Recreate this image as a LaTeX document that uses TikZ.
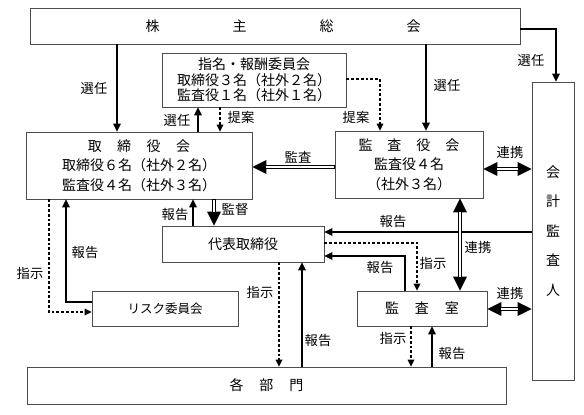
\documentclass[tikz,border=0pt]{standalone}
\usepackage{fontspec}
\newfontfamily\jp{Noto Sans CJK JP}
\usetikzlibrary{arrows.meta}
\begin{document}
\begin{tikzpicture}[x=1pt,y=-1pt,
 box/.style={draw=black!70, line width=0.9pt, fill=white, inner sep=0pt, align=center, font=\jp\fontsize{14}{19.5}\selectfont},
 ttl/.style={inner sep=0pt, font=\jp\fontsize{14}{17}\selectfont},
 lbl/.style={inner sep=0pt, font=\jp\fontsize{13.3}{14}\selectfont},
 sarr/.style={line width=2pt, -{Triangle[length=8pt,width=8pt,line width=0pt]}},
 darr/.style={line width=2.8pt, dash pattern=on 2.8pt off 2pt, -{Triangle[length=7pt,width=7pt,line width=0pt]}},
 dblone/.style={line width=4.8pt, -{Triangle[length=14pt,width=14pt,line width=0pt]}},
 dblboth/.style={line width=4.8pt, {Triangle[length=14pt,width=14pt,line width=0pt]}-{Triangle[length=14pt,width=14pt,line width=0pt]}},
 dblin/.style={white, line width=2.2pt},
]
\useasboundingbox (0,0) rectangle (584,415);

% boxes
\node[box, minimum width=490pt, minimum height=36pt] (soukai) at (275,26) {};
\node[ttl] (soukaiT) at (283,26) {株\hspace{73pt}主\hspace{73pt}総\hspace{73pt}会};
\node[box, minimum width=184pt, minimum height=54pt, font=\jp\fontsize{14}{15.5}\selectfont] (nomi) at (254,80) {指名・報酬委員会\\取締役３名（社外２名）\\監査役１名（社外１名）};
\node[box, minimum width=226pt, minimum height=67pt] (tori) at (139,165.5) {取\hspace{15.5pt}締\hspace{15.5pt}役\hspace{15.5pt}会\\取締役６名（社外２名）\\監査役４名（社外３名）};
\node[box, minimum width=148pt, minimum height=67pt] (kansa) at (409,164.5) {監\hspace{15pt}査\hspace{15pt}役\hspace{15pt}会\\監査役４名\\（社外３名）};
\node[box, minimum width=42pt, minimum height=298pt, font=\jp\fontsize{14}{29.5}\selectfont] (kaikei) at (553,231) {会\\計\\監\\査\\人};
\node[box, minimum width=162pt, minimum height=36pt] (daihyo) at (243,244) {代表取締役};
\node[box, minimum width=146pt, minimum height=35pt, font=\jp\fontsize{12.5}{15}\selectfont] (risk) at (165,308.5) {リスク委員会};
\node[box, minimum width=130pt, minimum height=35pt] (shitsu) at (422,308.5) {監\hspace{16pt}査\hspace{16pt}室};
\node[box, minimum width=479pt, minimum height=37pt] (bumon) at (266.5,385.5) {各\hspace{16pt}部\hspace{16pt}門};

% solid arrows
\draw[sarr] (soukai.south -| 117,0) -- (tori.north -| 117,0);
\draw[sarr] (soukai.south -| 426,0) -- (kansa.north -| 426,0);
\draw[sarr, line width=2.5pt] (soukai.east |- 0,29) -| (kaikei.north -| 556,0);
\draw[sarr] (tori.north -| 198,0) -- (nomi.south -| 198,0);
\draw[sarr] (daihyo.north -| 193,0) -- (tori.south -| 193,0);
\draw[sarr] (kaikei.west |- 0,232) -- (daihyo.east |- 0,232);
\draw[sarr] (shitsu.north -| 405,0) |- (daihyo.east |- 0,256);
\draw[sarr] (bumon.north -| 432,0) -- (shitsu.south -| 432,0);
\draw[sarr] (bumon.north -| 302,0) -- (daihyo.south -| 302,0);
\draw[sarr] (risk.west |- 0,302) -| (tori.south -| 66,0);

% dotted arrows
\draw[darr] (nomi.south -| 220,0) -- (tori.north -| 220,0);
\draw[darr] (nomi.east |- 0,79) -| (kansa.north -| 380,0);
\draw[darr] (daihyo.east |- 0,243) -| (shitsu.north -| 417,0);
\draw[darr] (shitsu.south -| 411,0) -- (bumon.north -| 411,0);
\draw[darr] (daihyo.south -| 279,0) -- (bumon.north -| 279,0);
\draw[darr] (tori.south -| 49,0) |- (risk.west |- 0,312);

% double arrows
\draw[dblone] (kansa.west |- 0,167) -- (tori.east |- 0,167);
\draw[dblin, shorten <=0.5pt, shorten >=14pt] (kansa.west |- 0,167) -- (tori.east |- 0,167);
\draw[dblone] (tori.south -| 214,0) -- (daihyo.north -| 214,0);
\draw[dblin, shorten <=0.5pt, shorten >=14pt] (tori.south -| 214,0) -- (daihyo.north -| 214,0);
\draw[dblboth] (kansa.east |- 0,169) -- (kaikei.west |- 0,169);
\draw[dblin, shorten <=14pt, shorten >=14pt] (kansa.east |- 0,169) -- (kaikei.west |- 0,169);
\draw[dblboth] (kansa.south -| 460,0) -- (shitsu.north -| 460,0);
\draw[dblin, shorten <=14pt, shorten >=14pt] (kansa.south -| 460,0) -- (shitsu.north -| 460,0);
\draw[dblboth] (shitsu.east |- 0,309) -- (kaikei.west |- 0,309);
\draw[dblin, shorten <=14pt, shorten >=14pt] (shitsu.east |- 0,309) -- (kaikei.west |- 0,309);

% labels
\node[lbl] (l1) at (94,88) {選任};
\node[lbl] (l2) at (177,120) {選任};
\node[lbl] (l3) at (241,117) {提案};
\node[lbl] (l4) at (356,117) {提案};
\node[lbl] (l5) at (447,85) {選任};
\node[lbl] (l6) at (531,60) {選任};
\node[lbl] (l7) at (298,157) {監査};
\node[lbl] (l8) at (510,152) {連携};
\node[lbl] (l9) at (175,215) {報告};
\node[lbl] (l10) at (235,209) {監督};
\node[lbl] (l11) at (393,222) {報告};
\node[lbl] (l12) at (478,247) {連携};
\node[lbl] (l13) at (85,253) {報告};
\node[lbl] (l14) at (30,273) {指示};
\node[lbl] (l15) at (380,268) {報告};
\node[lbl] (l16) at (433,263) {指示};
\node[lbl] (l17) at (260,292) {指示};
\node[lbl] (l18) at (510,293) {連携};
\node[lbl] (l19) at (393,338) {指示};
\node[lbl] (l20) at (318,341) {報告};
\node[lbl] (l21) at (452,354) {報告};
\end{tikzpicture}
\end{document}
